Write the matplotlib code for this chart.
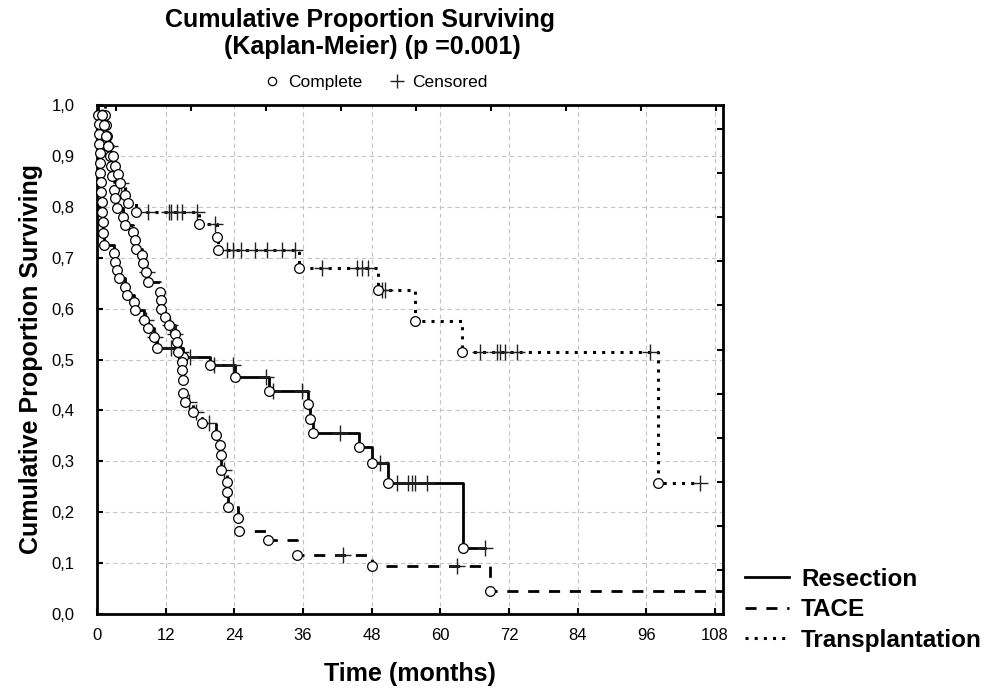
import matplotlib
matplotlib.use("Agg")
import matplotlib.pyplot as plt
from matplotlib.lines import Line2D
import numpy as np

plt.rcParams['font.family'] = ['Liberation Sans', 'DejaVu Sans']

# ---- data (months, proportion surviving) ----
# Resection
res_event_t = [0.2, 0.3, 0.35, 0.4, 0.5, 0.55, 0.6, 0.7, 0.75, 0.8, 0.9, 1.0, 1.1, 1.2,
               2.9, 3.1, 3.5, 3.8, 4.9, 5.2, 6.4, 6.7, 8.3, 9.0, 9.9, 10.5,
               15.0, 19.8, 24.2, 30.0, 36.9, 37.2, 37.7, 45.7, 48.0, 50.9, 64.0]
res_event_s = [0.981, 0.962, 0.943, 0.924, 0.905, 0.886, 0.867, 0.848, 0.829, 0.810, 0.790, 0.771, 0.748, 0.725,
               0.709, 0.692, 0.676, 0.660, 0.643, 0.627, 0.612, 0.597, 0.578, 0.561, 0.545, 0.522,
               0.505, 0.489, 0.465, 0.438, 0.413, 0.384, 0.356, 0.328, 0.297, 0.257, 0.129]
res_cens_t = [8.6, 10.1, 13.0, 16.3, 20.5, 23.8, 29.5, 30.8, 35.8, 42.5, 49.5,
              52.4, 54.4, 55.0, 55.6, 57.6, 67.8]
res_end = 67.8

# TACE
tace_event_t = [1.4, 1.6, 1.8, 2.0, 2.2, 2.4, 2.6, 2.9, 3.2, 3.5, 4.6, 4.9, 6.3, 6.6, 6.9,
                7.8, 8.1, 8.6, 9.0, 11.0, 11.1, 11.2, 11.9, 12.5, 13.6, 13.9, 14.2, 14.8, 14.9,
                15.0, 15.1, 15.3, 16.8, 18.3, 20.8, 21.5, 21.6, 21.7, 22.7, 22.8, 22.9,
                24.7, 24.8, 29.9, 34.9, 48.0, 68.7]
tace_event_s = [0.98, 0.96, 0.94, 0.92, 0.90, 0.88, 0.86, 0.833, 0.817, 0.797, 0.780, 0.764, 0.751, 0.735, 0.718,
                0.705, 0.689, 0.671, 0.653, 0.633, 0.617, 0.600, 0.584, 0.568, 0.551, 0.535, 0.515, 0.496, 0.479,
                0.460, 0.435, 0.417, 0.397, 0.375, 0.352, 0.332, 0.312, 0.283, 0.260, 0.240, 0.210,
                0.189, 0.164, 0.145, 0.116, 0.094, 0.045]
tace_cens_t = [8.7, 12.8, 13.7, 14.6, 16.0, 17.3, 19.5, 22.2, 43.0, 63.0]
tace_end = 110.0

# Transplantation
tx_event_t = [0.8, 1.2, 1.6, 2.0, 2.8, 3.2, 3.6, 4.0, 4.9, 5.5, 6.9, 17.8, 21.0, 21.1,
              35.3, 49.1, 55.5, 63.8, 98.0]
tx_event_s = [0.98, 0.96, 0.94, 0.92, 0.90, 0.88, 0.865, 0.846, 0.823, 0.808, 0.79, 0.766, 0.741, 0.716,
              0.68, 0.636, 0.576, 0.515, 0.258]
tx_cens_t = [2.3, 4.2, 9.0, 12.5, 13.0, 13.9, 14.8, 17.4, 20.6, 22.7, 23.8, 25.2, 27.6, 29.7,
             32.3, 34.6, 39.3, 45.4, 46.3, 47.4, 49.8, 50.3, 67.0, 69.9, 70.5, 71.3, 73.4,
             96.7, 105.3]
tx_end = 105.3

x_ticks = [0, 12, 24, 36, 48, 60, 72, 84, 96, 108]
y_ticks = [0.0, 0.1, 0.2, 0.3, 0.4, 0.5, 0.6, 0.7, 0.8, 0.9, 1.0]


def km_path(ev_t, ev_s, end):
    t = np.array([0.0] + list(ev_t) + [end])
    s = np.array([1.0] + list(ev_s) + [ev_s[-1]])
    return t, s


def level_at(ev_t, ev_s, times):
    t = np.array([0.0] + list(ev_t))
    s = np.array([1.0] + list(ev_s))
    idx = np.searchsorted(t, times, side='right') - 1
    return s[idx]


fig = plt.figure(figsize=(9.99, 6.90), dpi=100)
ax = fig.add_axes([97 / 999, 1 - 614 / 690, (723 - 97) / 999, (614 - 105) / 690])

groups = [
    ("Resection", res_event_t, res_event_s, res_cens_t, res_end, dict(ls='-', lw=2.0)),
    ("TACE", tace_event_t, tace_event_s, tace_cens_t, tace_end, dict(ls=(0, (4, 3.5)), lw=2.0)),
    ("Transplantation", tx_event_t, tx_event_s, tx_cens_t, tx_end, dict(ls=(0, (1, 2)), lw=2.2)),
]

handles = []
for name, et, es, ct, end, style in groups:
    t, s = km_path(et, es, end)
    ln, = ax.step(t, s, where='post', color='black', label=name, zorder=2, **style)
    handles.append(ln)
    ax.plot(ct, level_at(et, es, ct), ls='none', marker='+', ms=11, mew=1.0,
            color='#222222', zorder=3, clip_on=False)
    ax.plot(et, es, ls='none', marker='o', ms=7, mfc='white', mec='black',
            mew=0.9, zorder=4, clip_on=False)

ax.set_xlim(0, 109.4)
ax.set_ylim(0, 1.0)
ax.set_xticks(x_ticks)
ax.set_yticks(y_ticks)
ax.set_yticklabels([f"{v:.1f}".replace('.', ',') for v in y_ticks])
ax.tick_params(direction='in', length=4, width=1.5, labelsize=12)
ax.tick_params(axis='y', pad=16)
ax.tick_params(axis='x', pad=10)
ax.grid(True, ls=(0, (4, 3)), color='#c4c4c4', lw=0.8)
ax.set_axisbelow(True)
for sp in ax.spines.values():
    sp.set_linewidth(2.0)

# odd extra ticks on the top and right frame
axt = ax.twiny()
axt.set_xlim(ax.get_xlim())
axt.set_xticks(np.arange(3.4, 109, 13.1))
axt.tick_params(direction='in', length=4, width=1.5, labeltop=False)
axr = ax.twinx()
axr.set_ylim(ax.get_ylim())
axr.set_yticks(np.arange(0, 1.0, 0.0866))
axr.tick_params(direction='in', length=4, width=1.5, labelright=False)
for a in (axt, axr):
    for sp in a.spines.values():
        sp.set_visible(False)

ax.set_xlabel("Time (months)", fontsize=18, fontweight='bold', labelpad=14)
ax.set_ylabel("Cumulative Proportion Surviving", fontsize=18, fontweight='bold', labelpad=6)

fig.text(0.36, 1 - 20 / 690, "Cumulative Proportion Surviving", ha='center', va='center',
         fontsize=18, fontweight='bold')
fig.text(0.373, 1 - 47 / 690, "(Kaplan-Meier) (p =0.001)", ha='center', va='center',
         fontsize=18, fontweight='bold')

mk = [Line2D([], [], ls='none', marker='o', ms=6, mfc='white', mec='black', mew=0.9),
      Line2D([], [], ls='none', marker='+', ms=10, mew=1.0, color='#222222')]
top_leg = fig.legend(mk, ["Complete", "Censored"], loc='center', ncol=2,
                     bbox_to_anchor=(0.377, 1 - 82 / 690), frameon=False, fontsize=12.5,
                     handlelength=0.8, handletextpad=0.5, columnspacing=1.6)

fig.legend(handles, [h.get_label() for h in handles], loc='upper left',
           bbox_to_anchor=(745 / 999, 1 - 568 / 690), frameon=False,
           prop=dict(size=17.5, weight='bold'), handlelength=1.8, handletextpad=0.5,
           labelspacing=0.3, borderpad=0, borderaxespad=0)

fig.savefig("out.png", dpi=100)
